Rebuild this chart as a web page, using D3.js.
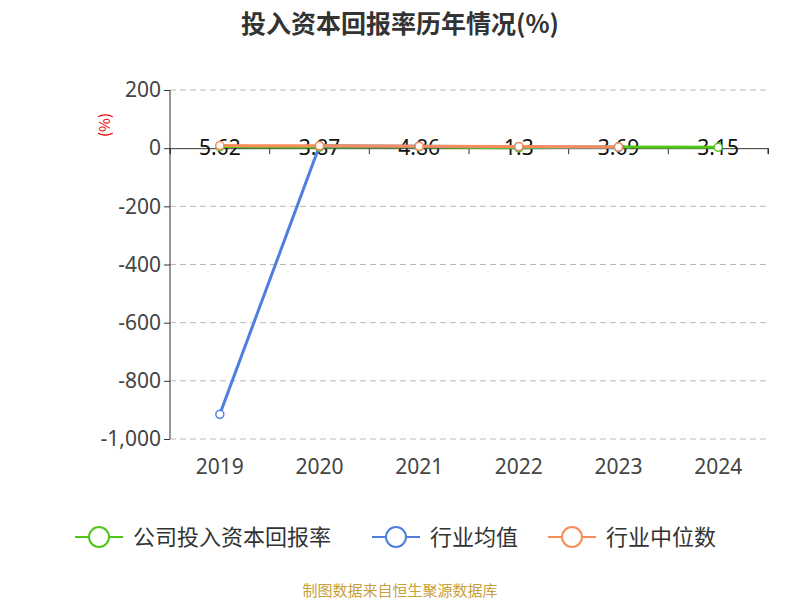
<!DOCTYPE html>
<html><head><meta charset="utf-8">
<script src="https://cdn.jsdelivr.net/npm/d3@7"></script>
<style>body{margin:0;background:#fff;font-family:"Noto Sans CJK SC","Noto Sans",sans-serif;}</style>
</head><body><div id="chart"></div>
<script>
const years = ["2019", "2020", "2021", "2022", "2023", "2024"];
const company = [5.62, 3.87, 4.86, 1.3, 3.69, 3.15];
const industryAvg = [-915, 8, 7, 5, 3, null];
const industryMedian = [9, 8, 7, 6, 4, null];
const yTicks = [200, 0, -200, -400, -600, -800, -1000];
const seriesNames = ["公司投入资本回报率", "行业均值", "行业中位数"];
const colors = ["#52c41a", "#4e7fe0", "#f98c5a"];

const W = 800, H = 600;
const svg = d3.select("#chart").append("svg").attr("width", W).attr("height", H);

const x = d3.scaleBand().domain(years).range([170, 768]);
const y = d3.scaleLinear().domain([-1000, 200]).range([439, 90]);
const cx = d => x(d) + x.bandwidth() / 2;
const fmt = d => d3.format(",")(d).replace("−", "-");

svg.append("text").attr("x", 400).attr("y", 33).attr("text-anchor", "middle")
  .attr("font-size", 25).attr("font-weight", "bold").attr("fill", "#333")
  .text("投入资本回报率历年情况(%)");

// grid
svg.append("g").selectAll("line").data(yTicks).join("line")
  .attr("x1", 170).attr("x2", 768).attr("y1", d => y(d)).attr("y2", d => y(d))
  .attr("stroke", "#bbb").attr("stroke-dasharray", "6,4")
  .attr("visibility", d => d === 0 ? "hidden" : "visible");

// y axis
const yAxis = svg.append("g").attr("transform", "translate(170,0)")
  .call(d3.axisLeft(y).tickValues(yTicks).tickSize(6).tickFormat(fmt));
yAxis.selectAll("text").attr("font-size", 21).attr("fill", "#444").attr("font-family", "Noto Sans");
yAxis.selectAll("line,path").attr("stroke", "#333");
yAxis.select("path").attr("d", "M0,90V439");

svg.append("text").attr("transform", `translate(110,125) rotate(-90)`)
  .attr("text-anchor", "middle").attr("font-size", 15).attr("fill", "#e00").text("(%)");

// x axis at zero
const xAxis = svg.append("g").attr("transform", `translate(0,${y(0)})`)
  .call(d3.axisBottom(x).tickSize(6).tickFormat(""));
xAxis.selectAll("line,path").attr("stroke", "#333");
xAxis.selectAll(".tick").attr("transform", d => `translate(${x(d)},0)`);
xAxis.append("line").attr("x1", 768).attr("x2", 768).attr("y1", 0).attr("y2", 6).attr("stroke", "#333");

svg.append("g").selectAll("text").data(years).join("text")
  .attr("x", d => cx(d)).attr("y", 474).attr("text-anchor", "middle")
  .attr("font-size", 21).attr("fill", "#444").attr("font-family", "Noto Sans").text(d => d);

svg.append("g").selectAll("text").data(company).join("text")
  .attr("x", (d, j) => cx(years[j])).attr("y", y(0) + 7).attr("text-anchor", "middle")
  .attr("font-size", 21).attr("fill", "#111").attr("font-family", "Noto Sans").text(d => d);

const line = d3.line().defined(d => d[1] != null).x(d => cx(d[0])).y(d => y(d[1]));
const series = [company, industryAvg, industryMedian];
series.forEach((vals, i) => {
  const pts = years.map((yr, j) => [yr, vals[j]]);
  svg.append("path").datum(pts).attr("d", line).attr("fill", "none")
    .attr("stroke", colors[i]).attr("stroke-width", 3);
});
series.forEach((vals, i) => {
  const pts = years.map((yr, j) => [yr, vals[j]]).filter(d => d[1] != null);
  svg.append("g").selectAll("circle").data(pts).join("circle")
    .attr("cx", d => cx(d[0])).attr("cy", d => y(d[1])).attr("r", 4)
    .attr("fill", "#fff").attr("stroke", colors[i]).attr("stroke-width", 1.5);
});

// legend
const lg = svg.append("g");
const lx = [75, 372, 548];
seriesNames.forEach((n, i) => {
  const g = lg.append("g").attr("transform", `translate(${lx[i]},537)`);
  g.append("line").attr("x1", 0).attr("x2", 48).attr("stroke", colors[i]).attr("stroke-width", 2);
  g.append("circle").attr("cx", 24).attr("r", 10).attr("fill", "#fff").attr("stroke", colors[i]).attr("stroke-width", 2);
  g.append("text").attr("x", 58).attr("y", 8).attr("font-size", 22).attr("fill", "#333").text(n);
});

svg.append("text").attr("x", 400).attr("y", 596).attr("text-anchor", "middle")
  .attr("font-size", 15).attr("fill", "#c9a03a").text("制图数据来自恒生聚源数据库");
</script></body></html>
